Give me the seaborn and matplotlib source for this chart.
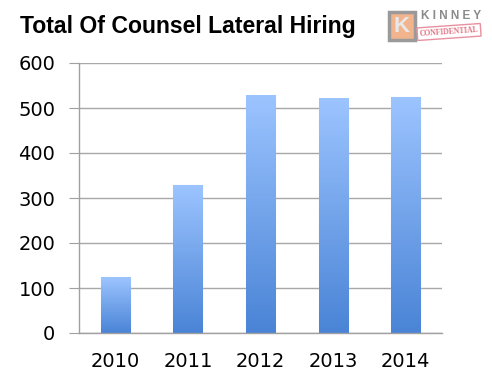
import numpy as np
import pandas as pd
import matplotlib
matplotlib.use("Agg")
import matplotlib.pyplot as plt
from matplotlib.colors import LinearSegmentedColormap
from matplotlib.patches import Rectangle
import seaborn as sns

years = ["2010", "2011", "2012", "2013", "2014"]
hires = [124, 328, 527, 521, 524]
y_ticks = [0, 100, 200, 300, 400, 500, 600]

df = pd.DataFrame({"year": years, "hires": hires})

sns.set_style("white")
plt.rcParams["font.family"] = ["DejaVu Sans"]

fig = plt.figure(figsize=(4.92, 3.81), dpi=100)
ax = fig.add_axes([79 / 492, 48 / 381, 363 / 492, 270 / 381])

sns.barplot(data=df, x="year", y="hires", ax=ax, width=0.4,
            color="#6fa3ee", saturation=1, edgecolor="none")

# gradient fill on each bar
grad_cmap = LinearSegmentedColormap.from_list("bar", ["#4a84d6", "#9cc4ff"])
grad = np.linspace(0, 1, 256).reshape(-1, 1)
for p in ax.patches:
    x0, w, h = p.get_x(), p.get_width(), p.get_height()
    p.set_facecolor("none")
    p.set_edgecolor("#b8d3f5")
    p.set_linewidth(0.8)
    ax.imshow(grad, extent=[x0, x0 + w, 0, h], origin="lower",
              aspect="auto", cmap=grad_cmap, zorder=2)

ax.set_xlim(-0.5, len(years) - 0.5)
ax.set_ylim(0, 600)
ax.set_yticks(y_ticks)
ax.yaxis.grid(True, color="#a8a8a8", linewidth=1)
ax.set_axisbelow(True)

for s in ["top", "right"]:
    ax.spines[s].set_visible(False)
for s in ["left", "bottom"]:
    ax.spines[s].set_color("#a0a0a0")
    ax.spines[s].set_linewidth(1)

ax.set_xticks(range(len(years)))
ax.set_xticklabels(years)
ax.set_xticks(np.arange(-0.5, len(years), 1), minor=True)
ax.tick_params(axis="x", which="major", length=0, pad=14, labelsize=14,
               labelcolor="black")
ax.tick_params(axis="x", which="minor", length=7, color="#a0a0a0", direction="out")
ax.tick_params(axis="y", length=7, color="#a0a0a0", direction="out",
               pad=10, labelsize=14, left=True, labelcolor="black")
ax.set_xlabel("")
ax.set_ylabel("")

fig.text(20 / 492, 1 - 27 / 381, "Total Of Counsel Lateral Hiring",
         fontsize=16.6, fontweight="bold", family="Liberation Sans",
         color="black", va="center", ha="left")

# logo
fig.patches.append(Rectangle((389 / 492, 1 - 40 / 381), 26 / 492, 28 / 381,
                             transform=fig.transFigure, facecolor="#f2b48c",
                             edgecolor="#9a9a9a", linewidth=2.5))
fig.text(402 / 492, 1 - 26 / 381, "K", fontsize=16, color="#e8e8e8",
         fontweight="bold", ha="center", va="center", family="Liberation Sans")
fig.text(451 / 492, 1 - 16 / 381, "K I N N E Y", fontsize=8.5, color="#8a8a8a",
         fontweight="bold", ha="center", va="center", family="Liberation Sans")
fig.text(449 / 492, 1 - 32 / 381, "CONFIDENTIAL", fontsize=5.5, color="#e07080",
         fontweight="bold", ha="center", va="center", family="Liberation Serif",
         rotation=4,
         bbox=dict(boxstyle="square,pad=0.3", facecolor="none",
                   edgecolor="#e890a0", linewidth=1))

fig.savefig("out.png", dpi=100)
